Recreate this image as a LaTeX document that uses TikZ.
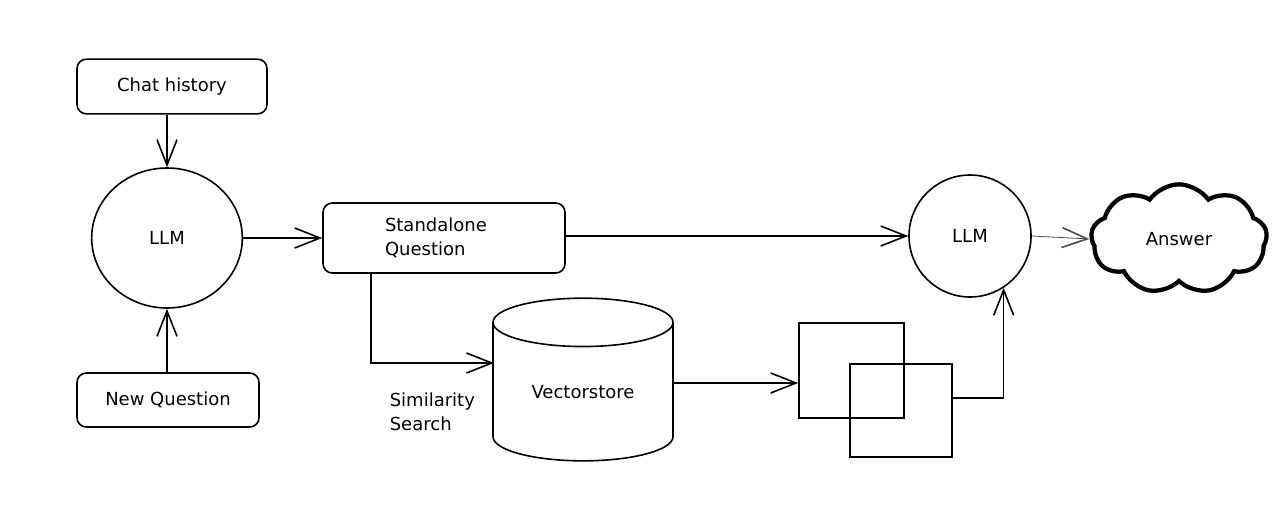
\documentclass[tikz,border=0pt]{standalone}
\usepackage{fontspec}
\setmainfont{DejaVu Sans}
\usetikzlibrary{shapes.geometric,shapes.symbols,arrows.meta,calc}

\tikzset{every picture/.style={line width=1.2pt}}
\tikzset{
  handtext/.style={font=\fontsize{13.5}{18}\selectfont},
  roundbox/.style={draw, rounded corners=7pt, inner sep=0.75pt, handtext},
  llmcircle/.style={draw, ellipse, inner sep=0.75pt, handtext},
  docsheet/.style={draw, rectangle, inner sep=0pt},
  conn/.style={-{Straight Barb[length=19pt,width=15pt,line width=1.2pt]}},
}

\begin{document}
\begin{tikzpicture}[x=0.75pt,y=0.75pt,yscale=-1,xscale=1]
\useasboundingbox (0,0) rectangle (1280,522);

% Text Node
\node [roundbox, minimum width=142.5pt, minimum height=41pt] (chat) at (172,86.5) {Chat history};
% Text Node
\node [llmcircle, minimum width=113pt, minimum height=105pt] (llm1) at (167,238) {LLM};
% Text Node
\node [roundbox, minimum width=136.5pt, minimum height=40.5pt] (newq) at (168,400) {New Question};
% Text Node
\node [roundbox, minimum width=181.5pt, minimum height=52.5pt, text width=88.5pt, align=left] (standq) at (444,238) {Standalone\\Question};
% Text Node
\node [llmcircle, circle, minimum size=91.5pt] (llm2) at (970,236) {LLM};
% Text Node
\node [draw, cloud, cloud puffs=9, cloud puff arc=110, aspect=1.7, line width=3.2pt, minimum width=132pt, minimum height=82pt, inner sep=0pt, handtext] (answer) at (1179,239) {Answer};
% Text Node
\node [draw, cylinder, shape border rotate=90, aspect=0.47, minimum width=135pt, minimum height=122pt, inner sep=0pt, handtext] (vstore) at (583,392) {Vectorstore};
% Text Node
\node [handtext, anchor=west, align=left, inner sep=0.75pt] (simsearch) at (388,412) {Similarity\\Search};
% Text Node
\node [docsheet, minimum width=78.75pt, minimum height=71.25pt] (doca) at (851.5,370.5) {};
\node [docsheet, minimum width=76.5pt, minimum height=69.75pt] (docb) at (901,410.5) {};

\coordinate (vsin) at (494,363);
\coordinate (vsout) at ($(vstore.east)+(0,-9)$);
\coordinate (sqfoot) at ($(standq.south west)!0.2!(standq.south east)$);
\coordinate (docout) at ($(docb.north east)!0.37!(docb.south east)$);

% Connection
\draw [conn] (chat.south -| llm1.north) -- (llm1.north);
% Connection
\draw [conn] (newq.north -| llm1.south) -- (llm1.south);
% Connection
\draw [conn] (llm1.east) -- (llm1.east -| standq.west);
% Connection
\draw [conn] (standq.east |- llm2.west) -- (llm2.west);
% Connection
\draw [conn, line width=0.6pt, draw=black!70] (llm2.east) -- (answer.west);
% Connection
\draw [conn] (sqfoot) |- (vsin);
% Connection
\draw [conn] (vsout) -- (vsout -| doca.west);
% Connection
\draw [conn] (docout) -| (llm2.-57);

\end{tikzpicture}
\end{document}
